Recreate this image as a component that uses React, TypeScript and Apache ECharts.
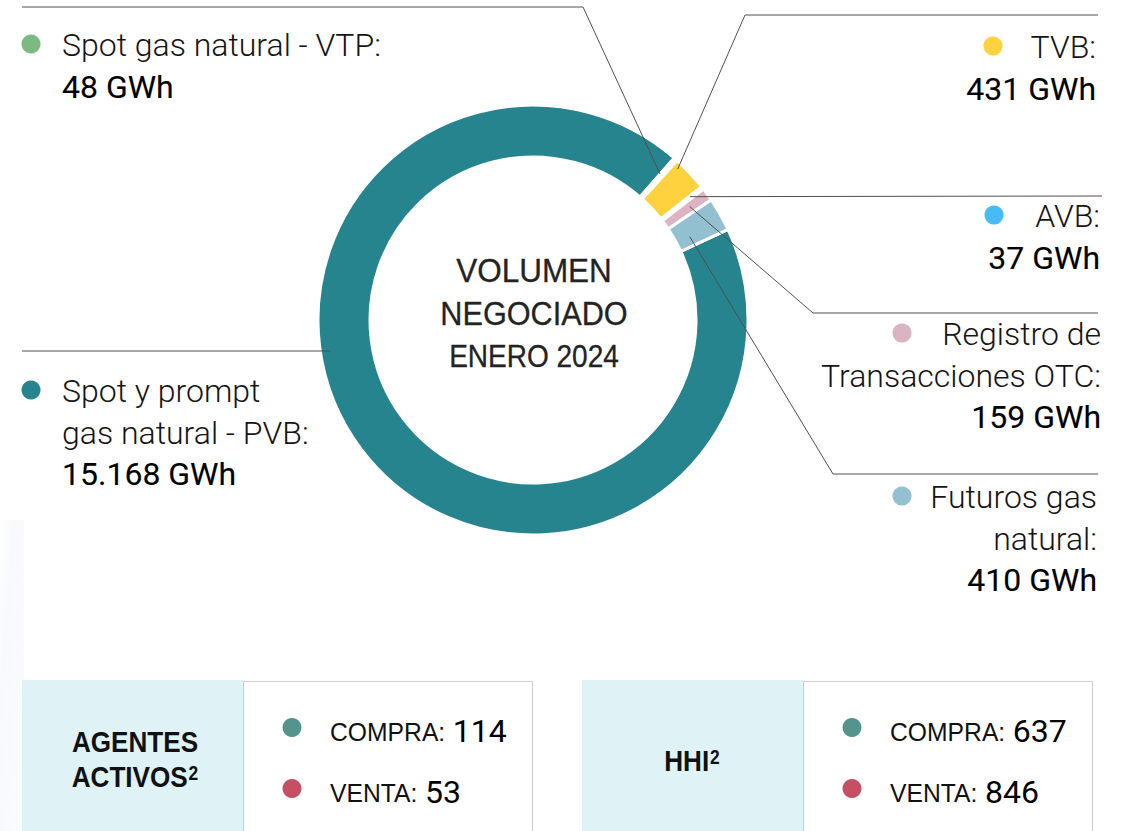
import React, { useEffect, useRef } from "react";
import * as echarts from "echarts";

// ---------- data ----------
const categories = [
  "Spot y prompt gas natural - PVB",
  "Spot gas natural - VTP",
  "TVB",
  "AVB",
  "Registro de Transacciones OTC",
  "Futuros gas natural",
];
const values = [15168, 48, 431, 37, 159, 410];
const nameLines = [
  ["Spot y prompt", "gas natural - PVB:"],
  ["Spot gas natural - VTP:"],
  ["TVB:"],
  ["AVB:"],
  ["Registro de", "Transacciones OTC:"],
  ["Futuros gas", "natural:"],
];
const unit = "GWh";
const sliceColors = ["#26848e", "#ffffff", "#fed23f", "#ffffff", "#dbb3c2", "#92c0d1"];
const dotColors = ["#26848e", "#7db983", "#fed23f", "#45bcf5", "#dbb3c2", "#92c0d1"];
const centerTitle = ["VOLUMEN", "NEGOCIADO", "ENERO 2024"];
const statLabels = ["COMPRA:", "VENTA:"];
const agentesValues = [114, 53];
const hhiValues = [637, 846];
const boxTitles = [["AGENTES", "ACTIVOS"], ["HHI"]];
const titleSup = "2";
const statDotColors = ["#53958b", "#c84f63"];

// ---------- layout ----------
const W = 1122;
const H = 831;
const CX = 533;
const CY = 320;
const R_IN = 163;
const R_OUT = 215;
const START_CW = 65.1; // degrees clockwise from 12 o'clock
const LINE_H = 41.5;
const SANS = "Roboto, 'Noto Sans', sans-serif";
const ARIAL = "'Liberation Sans', Arimo, Arial, sans-serif";
const TEXT = "#141414";
const LINE = "#505050";

type LabelPos = {
  align: "left" | "right";
  x: number;
  y: number;
  dotX: number;
  anchorR: number;
  shift?: number;
  anchorY?: number;
  line: number[][];
};

const labelPos: LabelPos[] = [
  { align: "left", x: 62, y: 391, dotX: 31, anchorR: 205, anchorY: 351, line: [[22, 351]] },
  { align: "left", x: 62, y: 45, dotX: 31, anchorR: 193.6, shift: -0.6, line: [[583, 7], [22, 7]] },
  { align: "right", x: 1096, y: 47, dotX: 993, anchorR: 209, shift: -3.1, line: [[745, 15], [1098, 15]] },
  { align: "right", x: 1100, y: 216, dotX: 994, anchorR: 199.6, shift: -0.25, line: [[1102, 196]] },
  { align: "right", x: 1101, y: 334, dotX: 902, anchorR: 193.4, shift: -0.2, line: [[813, 313], [1098, 313]] },
  { align: "right", x: 1097, y: 497, dotX: 902, anchorR: 177.5, shift: 1.4, line: [[833, 474], [1098, 474]] },
];

const centerStyle = [
  { y: 271, size: 33.5, scale: 0.94 },
  { y: 313.5, size: 33.5, scale: 0.915 },
  { y: 355.5, size: 31.5, scale: 0.89 },
];

const boxes = [
  { x: 22, titleX: 135, titleY: [742, 777], values: agentesValues },
  { x: 582, titleX: 692, titleY: [761], values: hhiValues },
];

function fmt(n: number): string {
  return String(n).replace(/\B(?=(\d{3})+(?!\d))/g, ".");
}

function polar(angleCw: number, r: number): number[] {
  const t = (angleCw * Math.PI) / 180;
  return [CX + r * Math.sin(t), CY - r * Math.cos(t)];
}

let measureCtx: CanvasRenderingContext2D | null = null;
function textWidth(text: string, size: number, family: string, weight: string | number = "normal"): number {
  if (!measureCtx) measureCtx = document.createElement("canvas").getContext("2d");
  if (!measureCtx) return text.length * size * 0.55;
  measureCtx.font = `${weight} ${size}px ${family}`;
  return measureCtx.measureText(text).width;
}

function txt(x: number, y: number, text: string, style: any, extra: any = {}) {
  return {
    type: "text",
    z: 100,
    silent: true,
    x,
    y,
    ...extra,
    style: {
      text,
      verticalAlign: "middle",
      textVerticalAlign: "middle",
      ...style,
      textAlign: style.align,
    },
  };
}

function buildOption() {
  const total = values.reduce((a, b) => a + b, 0);
  let acc = 0;
  const mids = values.map((v) => {
    const m = START_CW + ((acc + v / 2) / total) * 360;
    acc += v;
    return m;
  });

  const graphics: any[] = [];

  // very faint shade on left edge
  graphics.push({
    type: "rect",
    z: 1,
    silent: true,
    shape: { x: 0, y: 520, width: 24, height: H - 520 },
    style: {
      fill: new echarts.graphic.LinearGradient(0, 0, 1, 1, [
        { offset: 0, color: "#ffffff" },
        { offset: 0.3, color: "#f8f9fc" },
        { offset: 1, color: "#fbfcfe" },
      ]),
    },
  });

  // leader lines, dots and labels
  labelPos.forEach((p, i) => {
    let anchor: number[];
    if (p.anchorY != null) {
      const dy = p.anchorY - CY;
      anchor = [CX - Math.sqrt(p.anchorR * p.anchorR - dy * dy), p.anchorY];
    } else {
      anchor = polar(mids[i] + (p.shift || 0), p.anchorR);
    }
    graphics.push({
      type: "polyline",
      z: 100,
      silent: true,
      shape: { points: [anchor, ...p.line] },
      style: { stroke: LINE, lineWidth: 1, fill: null },
    });
    graphics.push({
      type: "circle",
      z: 100,
      silent: true,
      shape: { cx: p.dotX, cy: p.y - 1, r: 9.5 },
      style: { fill: dotColors[i] },
    });
    const lines = nameLines[i];
    lines.forEach((t, k) => {
      graphics.push(
        txt(p.x, p.y + k * LINE_H, t, {
          fill: TEXT,
          fontSize: 32,
          fontFamily: SANS,
          fontWeight: 300,
          align: p.align,
        })
      );
    });
    graphics.push(
      txt(p.x, p.y + lines.length * LINE_H, fmt(values[i]) + " " + unit, {
        fill: "#000",
        fontSize: 32,
        fontFamily: SANS,
        fontWeight: 400,
        align: p.align,
        stroke: "#000",
        lineWidth: 0.12,
      })
    );
  });

  // centre title
  centerTitle.forEach((t, k) => {
    const c = centerStyle[k];
    graphics.push(
      txt(
        CX + 1,
        c.y,
        t,
        {
          fill: "#232323",
          fontSize: c.size,
          fontFamily: ARIAL,
          align: "center",
          stroke: "#232323",
          lineWidth: 0.3,
        },
        { scaleX: c.scale }
      )
    );
  });

  // bottom boxes
  const TITLE_SIZE = 30;
  const TITLE_SCALE = 0.87;
  const SUP_SIZE = 20;
  const LAB_SIZE = 26;
  const LAB_SCALE = 0.95;
  boxes.forEach((b, bi) => {
    graphics.push({
      type: "rect",
      z: 10,
      silent: true,
      shape: { x: b.x, y: 680, width: 221, height: H - 680 + 5 },
      style: { fill: "#dff3f6" },
    });
    graphics.push({
      type: "rect",
      z: 10,
      silent: true,
      shape: { x: b.x + 221.5, y: 681.5, width: 289, height: H - 681 + 5 },
      style: { fill: "#ffffff", stroke: "#c9cccf", lineWidth: 1 },
    });
    const title = boxTitles[bi];
    title.forEach((t, k) => {
      const hasSup = k === title.length - 1;
      const wBase = textWidth(t, TITLE_SIZE, ARIAL, "bold");
      const wSup = hasSup ? textWidth(titleSup, SUP_SIZE, ARIAL, "bold") + 1 : 0;
      const start = b.titleX - ((wBase + wSup) * TITLE_SCALE) / 2;
      const y = b.titleY[k];
      graphics.push(
        txt(start, y, t, {
          fill: "#111",
          fontSize: TITLE_SIZE,
          fontFamily: ARIAL,
          fontWeight: "bold",
          align: "left",
        }, { scaleX: TITLE_SCALE })
      );
      if (hasSup) {
        graphics.push(
          txt(start + (wBase + 1) * TITLE_SCALE, y - 4, titleSup, {
            fill: "#111",
            fontSize: SUP_SIZE,
            fontFamily: ARIAL,
            fontWeight: "bold",
            align: "left",
          }, { scaleX: TITLE_SCALE })
        );
      }
    });
    const rowY = [732, 793];
    statLabels.forEach((lab, k) => {
      graphics.push({
        type: "circle",
        z: 100,
        silent: true,
        shape: { cx: b.x + 270, cy: rowY[k] - 4.5, r: 9.5 },
        style: { fill: statDotColors[k] },
      });
      const lx = b.x + 308;
      graphics.push(
        txt(lx, rowY[k], lab, {
          fill: "#111",
          fontSize: LAB_SIZE,
          fontFamily: ARIAL,
          align: "left",
        }, { scaleX: LAB_SCALE })
      );
      const vx = lx + (textWidth(lab, LAB_SIZE, ARIAL) + 8) * LAB_SCALE;
      graphics.push(
        txt(vx, rowY[k] - 1, String(b.values[k]), {
          fill: "#000",
          fontSize: 32,
          fontFamily: SANS,
          fontWeight: 400,
          align: "left",
        })
      );
    });
  });

  return {
    animation: false,
    backgroundColor: "#ffffff",
    series: [
      {
        type: "pie",
        center: [CX, CY],
        radius: [R_IN, R_OUT],
        startAngle: 90 - START_CW,
        clockwise: true,
        avoidLabelOverlap: false,
        silent: true,
        label: { show: false },
        labelLine: { show: false },
        emphasis: { disabled: true },
        itemStyle: { borderColor: "#ffffff", borderWidth: 3 },
        data: categories.map((name, i) => ({
          name,
          value: values[i],
          itemStyle: { color: sliceColors[i] },
        })),
        z: 2,
      },
    ],
    graphic: { elements: graphics },
  };
}

export default function App() {
  const ref = useRef<HTMLDivElement>(null);
  useEffect(() => {
    document.body.style.margin = "0";
    if (!ref.current) return;
    const chart = echarts.init(ref.current, null, { renderer: "svg" });
    chart.setOption(buildOption() as any);
    return () => chart.dispose();
  }, []);
  return (
    <div
      ref={ref}
      style={{ position: "absolute", left: 0, top: 0, width: W, height: H, background: "#fff" }}
    />
  );
}
